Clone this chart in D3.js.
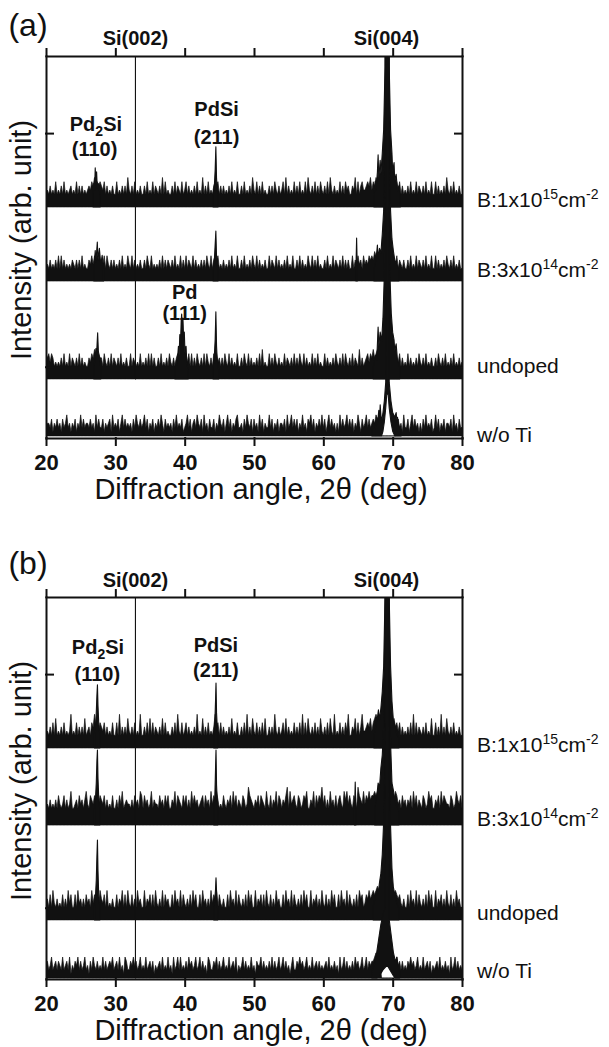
<!DOCTYPE html>
<html>
<head>
<meta charset="utf-8">
<title>XRD patterns (a) and (b)</title>
<script src="https://d3js.org/d3.v7.min.js"></script>
<style>
  body { margin: 0; background: #fff; }
  svg { font-family: "Liberation Sans", Arial, Helvetica, sans-serif; }
</style>
</head>
<body>
<script>
// ---- data ----
const xTicks = [20, 30, 40, 50, 60, 70, 80];
const yTicks = [0, 1000];
const angleStart = 20, angleStep = 0.2;   // noise strings: one digit per 0.2 deg
const noiseUnit = 18;                     // counts per digit

const sampleLabels = [
  [["B:1x10"], ["15", "sup"], ["cm"], ["-2", "sup"]],
  [["B:3x10"], ["14", "sup"], ["cm"], ["-2", "sup"]],
  [["undoped"]],
  [["w/o Ti"]]
];

const baselinesA = [684, 367, -52, -296];
const baselinesB = [684, 354, -52, -301];

const noiseA = [
  `3435343634 3536343453 4363535343 4546576656 5463534353 3634353537 4353634353 3536343635
   4353736343 3536354363 4635343536 3437353634 3565635353 4353634363 3536343537 4363536343
   3535364353 4637353436 3536343637 4353635364 3536374353 4363536453 3547363564 4565746576
   7867600786 6756463534 3536343635 4353634363 3635343537 4353634353 3`,
  `3435343536 3635343435 4353536343 3546465645 5463643535 3435363436 4363534353 3536436343
   4353635354 3536343635 3635436353 4353536436 3565634353 4353634363 3536343536 4363534353
   3635436353 4353634363 3536353436 4363536343 3536343635 4353635353 3635464536 4546565767
   6757600675 6546354353 3536343635 4353634363 3635343536 4353634353 3`,
  `6564653434 3536343635 4353635343 3546576565 5364353635 4353634353 3635434363 4353636353
   3536343536 4353565656 5646363536 4353636435 3656453536 4363534363 3536436353 4353637343
   3635364353 4363543536 3536436353 4363536343 3635343536 4353636435 3635437353 4564657567
   7867600786 7565463534 3635343536 4353634353 3536435363 4353634353 4`,
  `2332413242 3142352313 2413252423 3242315242 2413234152 3241352423 2314253242 3524132413
   2425314232 3142523241 2352413425 3241523142 2413253241 3524132452 2314253241 4231524132
   2524132413 3241523524 2413252314 3524132425 2413524231 3152423524 2413253142 3524234354
   3200000000 0003423152 2413524231 3142523241 2524132413 3241523142 2`
];

const noiseB = [
  `3435363734 3536343483 4363535373 4536585646 5463534363 3638353537 4353634383 3536373635
   4353736343 3536384363 4635343538 3437353634 3585636353 4353734363 3536383537 4363536373
   3535384353 4637353436 3536383637 4353635374 3536374383 4363536483 3547363584 4565746787
   7868700786 6756463534 3536383635 4353634373 3635383537 4353634353 3`,
  `4546454647 5457464584 4564756468 5476576857 6574645474 4647584565 5464756487 4756458465
   5475647574 4658476547 5746485756 4567475648 5768645475 4657485746 5476459765 4657476548
   5474658476 4657948567 5476457684 4658475769 5746485647 4675486857 5476497658 5768677878
   7878700787 7687564756 4657485746 5476458674 4657485765 5476458657 4`,
  `3536374353 4363537463 3637453536 4537465637 5463734353 3635473637 4363537453 3735463637
   4353736453 3637453736 4353637463 3637453537 4657364353 3637453736 4353637463 3735463637
   4363537453 3637453736 4353637463 3735463537 4363537463 3637453736 4353637563 4657567678
   7868700786 7676564353 3637453736 4353637463 3735463537 4363537453 3`,
  `2423523424 3252342513 2435242352 3142532423 2524234352 3425231542 2435342352 3252342413
   2342523252 3152352523 2425342352 3524231542 2435242352 3252342513 2352423252 3143352423
   2425242352 3524231352 2435342352 3252342423 2342523242 3152352423 2425342352 3524344565
   5300000000 0035342423 2435342352 3252342413 2342523242 3152352423 2`
];

// peaks: [2theta, top] or [2theta, bottom, top], counts above the trace baseline
const peaksA = [
  [ // B:1x10^15
    [[26.8,60],[26.9,100],[27.0,70],[27.1,167],[27.2,110],[27.3,150],[27.4,80],[27.6,100],[27.8,50]],
    [[44.1,50],[44.3,100],[44.4,160],[44.5,257],[44.6,120],[44.8,50]],
    [[67.3,50],[67.5,110],[67.6,70],[67.8,150],[67.9,223],[68.0,120],[68.2,200],[68.3,140],[68.5,230],
     [68.7,330],[68.9,600],[69.0,1500],[69.08,6000],[69.32,6000],[69.4,1500],[69.5,600],[69.7,330],
     [69.9,230],[70.0,150],[70.2,190],[70.3,110],[70.5,140],[70.7,70],[70.9,90],[71.1,50]]
  ],
  [ // B:3x10^14
    [[26.9,50],[27.1,130],[27.2,80],[27.4,167],[27.5,90],[27.7,140],[27.9,70],[28.1,110],[28.3,50]],
    [[44.1,50],[44.3,100],[44.5,214],[44.6,100],[44.8,50]],
    [[64.7,50],[64.8,184],[64.9,50]],
    [[67.3,50],[67.6,90],[67.8,154],[67.9,100],[68.1,140],[68.3,120],[68.5,200],[68.7,300],[68.9,600],
     [69.0,1500],[69.08,6000],[69.32,6000],[69.4,1500],[69.5,600],[69.7,300],[69.9,180],[70.1,130],
     [70.3,90],[70.6,70],[70.9,50]]
  ],
  [ // undoped
    [[26.9,50],[27.1,90],[27.2,130],[27.3,110],[27.45,197],[27.55,120],[27.7,90],[27.9,50]],
    [[32.9,0],[32.9,6000]],
    [[38.6,40],[38.8,80],[38.9,60],[39.1,140],[39.2,100],[39.3,190],[39.4,150],[39.5,250],[39.57,278],
     [39.65,210],[39.75,260],[39.85,170],[39.95,200],[40.05,110],[40.2,140],[40.3,70],[40.5,40]],
    [[44.1,50],[44.3,110],[44.4,170],[44.5,287],[44.6,140],[44.7,80],[44.9,40]],
    [[67.2,50],[67.5,100],[67.7,80],[67.9,222],[68.0,140],[68.2,200],[68.4,160],[68.6,260],[68.8,450],
     [68.95,900],[69.08,6000],[69.32,6000],[69.45,900],[69.6,450],[69.8,280],[70.0,200],[70.2,167],
     [70.3,120],[70.5,150],[70.7,80],[71.0,50]]
  ],
  [ // w/o Ti
    [[67.0,0,20],[67.3,0,50],[67.5,0,30],[67.7,0,80],[67.8,0,50],[68.0,0,110],[68.1,0,70],[68.2,0,133],
     [68.3,0,90],[68.4,0,60],[68.6,20,100],[68.8,60,150],[69.0,120,230],[69.15,178,6000],[69.35,178,6000],
     [69.5,120,230],[69.75,60,150],[70.0,20,100],[70.3,0,80],[70.5,0,100],[70.6,0,70],[70.7,0,80],
     [70.9,0,40],[71.2,0,20]]
  ]
];

const peaksB = [
  [ // B:1x10^15
    [[27.0,60],[27.15,100],[27.25,150],[27.35,230],[27.42,270],[27.5,180],[27.6,110],[27.75,60]],
    [[44.2,50],[44.35,110],[44.45,200],[44.52,278],[44.6,150],[44.75,60]],
    [[67.3,50],[67.6,100],[67.8,130],[67.95,163],[68.1,120],[68.3,170],[68.5,240],[68.7,350],[68.9,650],
     [69.0,1500],[69.08,6000],[69.32,6000],[69.4,1500],[69.5,650],[69.7,350],[69.9,200],[70.1,120],
     [70.3,100],[70.6,60],[70.9,40]]
  ],
  [ // B:3x10^14
    [[27.0,70],[27.15,120],[27.25,180],[27.35,280],[27.42,321],[27.5,200],[27.6,120],[27.75,70]],
    [[44.2,60],[44.35,120],[44.45,240],[44.52,321],[44.6,170],[44.75,70]],
    [[64.5,60],[64.6,184],[64.7,60]],
    [[67.4,70],[67.7,120],[67.9,180],[68.1,160],[68.3,244],[68.5,300],[68.7,420],[68.9,700],[69.0,1500],
     [69.08,6000],[69.32,6000],[69.4,1500],[69.5,600],[69.7,350],[69.9,180],[70.1,150],[70.3,110],
     [70.6,80],[70.9,60]]
  ],
  [ // undoped
    [[27.0,60],[27.15,110],[27.25,170],[27.35,280],[27.42,342],[27.5,210],[27.6,110],[27.75,60]],
    [[44.2,50],[44.35,90],[44.45,130],[44.52,180],[44.6,120],[44.75,50]],
    [[67.2,60],[67.5,100],[67.7,128],[67.9,110],[68.1,160],[68.3,200],[68.5,280],[68.7,420],[68.9,700],
     [69.0,1500],[69.08,6000],[69.32,6000],[69.4,1500],[69.5,700],[69.7,400],[69.9,220],[70.1,140],
     [70.3,110],[70.6,70],[70.9,50]]
  ],
  [ // w/o Ti
    [[32.9,0],[32.9,6000]],
    [[67.0,0,30],[67.4,0,60],[67.7,0,110],[68.0,5,170],[68.3,20,230],[68.6,35,270],[68.9,45,300],
     [69.08,50,6000],[69.32,50,6000],[69.5,40,250],[69.8,25,180],[70.1,10,110],[70.4,0,70],[70.6,0,90],
     [70.8,0,50],[71.0,0,30]]
  ]
];

const siLabels = [["Si(002)", 32.9], ["Si(004)", 69.1]];

// ---- layout ----
const W = 609, H = 1047, panelH = 382;
const ink = "#111";
const svg = d3.select("body").append("svg").attr("width", W).attr("height", H);
const x = d3.scaleLinear().domain([20, 80]).range([46, 462]);
const y = d3.scaleLinear().domain([-305, 1330]).range([panelH, 0]);

function richText(sel, parts, small) {
  let shift = 0;
  parts.forEach(([t, kind]) => {
    const target = kind === "sup" ? -8 : kind === "sub" ? 5 : 0;
    const ts = sel.append("tspan").attr("dy", target - shift).text(t);
    if (kind) ts.attr("font-size", small);
    shift = target;
  });
}

function drawPanel(p) {
  const g = svg.append("g").attr("transform", `translate(0,${p.top})`);
  const clipId = "clip-" + p.id;
  g.append("clipPath").attr("id", clipId).append("rect")
    .attr("x", x(20)).attr("y", 0).attr("width", x(80) - x(20)).attr("height", panelH);
  const plot = g.append("g").attr("clip-path", `url(#${clipId})`);

  p.noise.forEach((str, k) => {
    const base = p.bases[k];
    const pts = str.replace(/\s/g, "").split("").map((c, i) => [angleStart + i * angleStep, base + (+c) * noiseUnit]);
    plot.append("path").datum(pts)
      .attr("d", d3.area().x(d => x(d[0])).y0(y(base)).y1(d => y(d[1])))
      .attr("fill", ink).attr("stroke", ink).attr("stroke-width", 0.7);

    const peakArea = d3.area()
      .x(d => x(d[0]))
      .y0(d => y(base + (d.length > 2 ? d[1] : 0)))
      .y1(d => y(base + d[d.length - 1]));
    p.peaks[k].forEach(pk => {
      plot.append("path").datum(pk).attr("d", peakArea)
        .attr("fill", ink).attr("stroke", ink).attr("stroke-width", 1.1)
        .attr("stroke-linejoin", "round");
    });
  });

  // axes
  const bottom = g.append("g").attr("transform", `translate(0,${panelH})`)
    .call(d3.axisBottom(x).tickValues(xTicks).tickSize(7).tickSizeOuter(0));
  bottom.selectAll("text").attr("y", 32).attr("dy", 0)
    .attr("font-size", 22).attr("font-weight", "bold").attr("fill", ink);
  g.append("g").call(d3.axisTop(x).tickValues(xTicks).tickSize(7).tickSizeOuter(0).tickFormat(""));
  g.append("g").attr("transform", `translate(${x(20)},0)`)
    .call(d3.axisLeft(y).tickValues(yTicks).tickSize(-7).tickSizeOuter(0).tickFormat(""));
  g.append("g").attr("transform", `translate(${x(80)},0)`)
    .call(d3.axisRight(y).tickValues(yTicks).tickSize(-7).tickSizeOuter(0).tickFormat(""));
  g.selectAll(".domain, .tick line").attr("stroke", ink).attr("stroke-width", 2)
    .attr("stroke-linecap", "square");

  // titles
  g.append("text").attr("x", 261).attr("y", panelH + 61).attr("text-anchor", "middle")
    .attr("font-size", 29).attr("fill", ink).text("Diffraction angle, 2\u03b8 (deg)");
  g.append("text").attr("transform", `translate(31,${p.ytitle}) rotate(-90)`)
    .attr("text-anchor", "middle").attr("font-size", 29).attr("fill", ink)
    .text("Intensity (arb. unit)");
  g.append("text").attr("x", 28).attr("y", p.panelLabelY).attr("text-anchor", "middle")
    .attr("font-size", 32).attr("fill", ink).text(p.label);

  // peak annotations
  siLabels.forEach(([t, a]) => {
    g.append("text").attr("x", x(a)).attr("y", p.siY).attr("text-anchor", "middle")
      .attr("font-size", 20).attr("font-weight", "bold").attr("fill", ink).text(t);
  });
  p.notes.forEach(n => {
    const t = g.append("text").attr("x", x(n.angle)).attr("y", n.y).attr("text-anchor", "middle")
      .attr("font-size", 20).attr("font-weight", "bold").attr("fill", ink);
    richText(t, n.parts, 14);
  });

  // sample labels
  sampleLabels.forEach((parts, k) => {
    const t = g.append("text").attr("x", 477).attr("y", p.sampleY[k])
      .attr("font-size", 21).attr("fill", ink);
    richText(t, parts, 14);
  });
}

drawPanel({
  id: "a", top: 56, label: "(a)", panelLabelY: -20, siY: -11, ytitle: 184,
  bases: baselinesA, noise: noiseA, peaks: peaksA,
  sampleY: [151, 221, 317, 386],
  notes: [
    { angle: 27.2, y: 75, parts: [["Pd"], ["2", "sub"], ["Si"]] },
    { angle: 27.0, y: 100, parts: [["(110)"]] },
    { angle: 44.6, y: 60, parts: [["PdSi"]] },
    { angle: 44.6, y: 88, parts: [["(211)"]] },
    { angle: 40.0, y: 243, parts: [["Pd"]] },
    { angle: 40.0, y: 264, parts: [["(111)"]] }
  ]
});

drawPanel({
  id: "b", top: 597, label: "(b)", panelLabelY: -23, siY: -10, ytitle: 184,
  bases: baselinesB, noise: noiseB, peaks: peaksB,
  sampleY: [155, 229, 323, 381],
  notes: [
    { angle: 27.5, y: 57, parts: [["Pd"], ["2", "sub"], ["Si"]] },
    { angle: 27.4, y: 84, parts: [["(110)"]] },
    { angle: 44.5, y: 55, parts: [["PdSi"]] },
    { angle: 44.5, y: 80, parts: [["(211)"]] }
  ]
});
</script>
</body>
</html>
